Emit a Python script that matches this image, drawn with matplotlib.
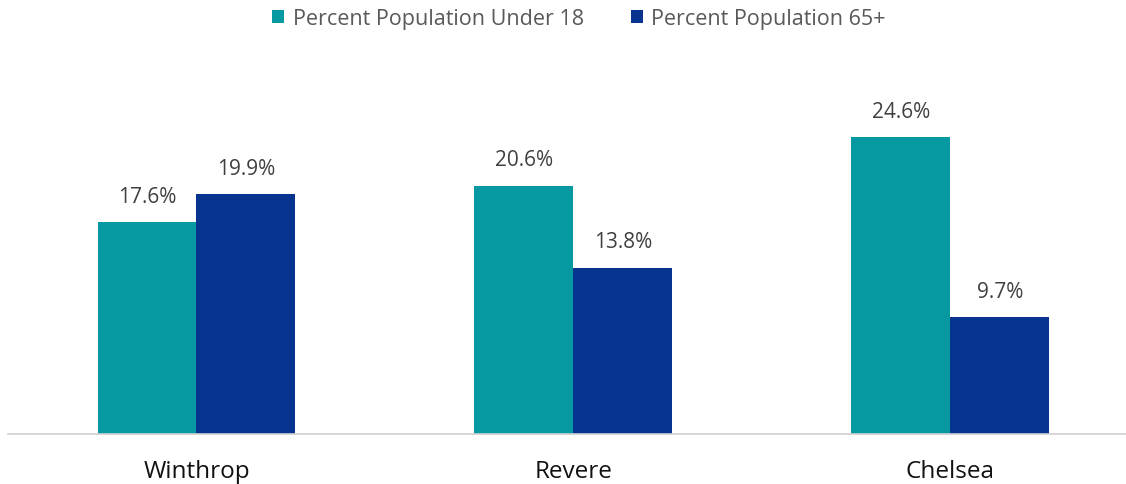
import matplotlib.pyplot as plt
import numpy as np

plt.rcParams['font.family'] = ['Open Sans', 'DejaVu Sans']

towns = ['Winthrop', 'Revere', 'Chelsea']
under18 = [17.6, 20.6, 24.6]
over65 = [19.9, 13.8, 9.7]
series_names = ['Percent Population Under 18', 'Percent Population 65+']

teal = '#0799A1'
navy = '#06348F'

x = np.arange(len(towns))
w = 0.2625

fig = plt.figure(figsize=(11.26, 4.85), dpi=100)
ax = fig.add_axes([8 / 1126, 50 / 485, 1118 / 1126, 375 / 485])

b1 = ax.bar(x - w / 2, under18, w, color=teal, label=series_names[0])
b2 = ax.bar(x + w / 2, over65, w, color=navy, label=series_names[1])

# value labels above each bar
for bars, vals in ((b1, under18), (b2, over65)):
    for rect, v in zip(bars, vals):
        ax.text(rect.get_x() + rect.get_width() / 2, v + 1.25, f'{v:.1f}%',
                ha='center', va='bottom', fontsize=15, color='#404040')

ax.set_xlim(-0.5, 2.466)
ax.set_ylim(0, 375 / 12.06)
ax.set_xticks(x)
ax.set_xticklabels(towns, fontsize=17.5, color='#111111')
ax.tick_params(axis='x', length=0, pad=18)
ax.set_yticks([])
for s in ['top', 'right', 'left']:
    ax.spines[s].set_visible(False)
ax.spines['bottom'].set_color('#d0d0d0')
ax.spines['bottom'].set_linewidth(1.2)

fig.legend(handles=[b1, b2], loc='center', bbox_to_anchor=(579 / 1126, 1 - 20 / 485),
           ncol=2, frameon=False, fontsize=15.5, labelcolor='#595959',
           handlelength=0.55, handleheight=0.55, handletextpad=0.4,
           columnspacing=2.2, borderpad=0)

fig.savefig('out.png', dpi=100)
